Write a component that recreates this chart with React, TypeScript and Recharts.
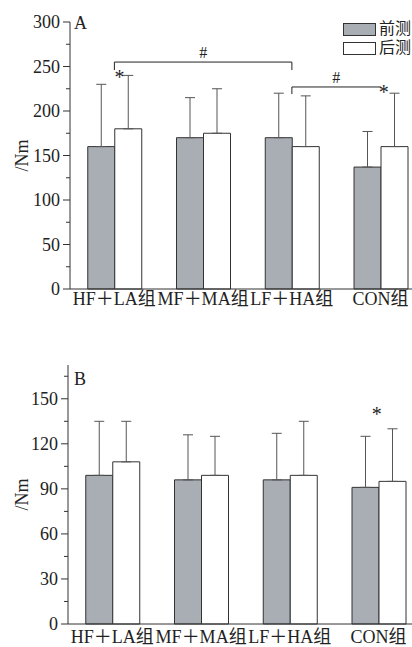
import {
  BarChart,
  Bar,
  XAxis,
  YAxis,
  ErrorBar,
  ReferenceLine,
  ReferenceDot,
  Legend,
} from 'recharts';

const categories = ['HF＋LA组', 'MF＋MA组', 'LF＋HA组', 'CON组'];
const legendNames = ['前测', '后测'];

// panel A: mean and SD (upper whisker only)
const preA = [160, 170, 170, 137];
const preSdA = [70, 45, 50, 40];
const postA = [180, 175, 160, 160];
const postSdA = [60, 50, 57, 60];

// panel B
const preB = [99, 96, 96, 91];
const preSdB = [36, 30, 31, 34];
const postB = [108, 99, 99, 95];
const postSdB = [27, 26, 36, 35];

const ticksA = [0, 25, 50, 75, 100, 125, 150, 175, 200, 225, 250, 275, 300];
const ticksB = [0, 15, 30, 45, 60, 75, 90, 105, 120, 135, 150, 165];

// significance marks
const bracketsA = [
  { from: 'HF＋LA组', to: 'LF＋HA组', y: 255, drop: 246, right: true },
  { from: 'LF＋HA组', to: 'CON组', y: 227, drop: 219, right: false },
];
const starsA = [
  { x: 'HF＋LA组', y: 241, dx: 5 },
  { x: 'CON组', y: 224, dx: 3 },
];
const starsB = [{ x: 'CON组', y: 141, dx: -2 }];

const FONT = '"Liberation Serif", "Noto Sans CJK SC", serif';
const GRAY = '#a9aeb5';

const build = (pre: number[], preSd: number[], post: number[], postSd: number[]) =>
  categories.map((name, i) => ({
    name,
    pre: pre[i],
    preErr: [0, preSd[i]],
    post: post[i],
    postErr: [0, postSd[i]],
  }));

const dataA = build(preA, preSdA, postA, postSdA);
const dataB = build(preB, preSdB, postB, postSdB);

const YTick = (props: any) => {
  const { x, y, payload, major } = props;
  const isMajor = payload.value % major === 0;
  return (
    <g>
      <line x1={x - (isMajor ? 7 : 4)} x2={x} y1={y} y2={y} stroke="#333" />
      {isMajor && (
        <text x={x - 10} y={y} dy="0.34em" textAnchor="end" fontSize={18} fill="#222" fontFamily={FONT}>
          {payload.value}
        </text>
      )}
    </g>
  );
};

const XTick = (props: any) => {
  const { x, y, payload, dy } = props;
  return (
    <text x={x} y={y + dy} textAnchor="middle" fontSize={18} fill="#222" fontFamily={FONT}>
      {payload.value}
    </text>
  );
};

const YLabel = (props: any) => {
  const vb = props.viewBox || { x: 0, y: 0, height: 0 };
  const cx = vb.x + 28;
  const cy = vb.y + vb.height / 2;
  return (
    <text x={cx} y={cy} textAnchor="middle" fontSize={18} fill="#222" fontFamily={FONT} transform={`rotate(-90, ${cx}, ${cy})`}>
      /Nm
    </text>
  );
};

const StarLabel = (props: any) => {
  const vb = props.viewBox || { x: 0, y: 0, width: 0, height: 0 };
  const cx = vb.x + vb.width / 2 + (props.dx || 0);
  const cy = vb.y + vb.height / 2;
  return (
    <text x={cx} y={cy + 9} textAnchor="middle" fontSize={20} fill="#222" fontFamily={FONT}>
      *
    </text>
  );
};

const LegendBox = () => (
  <div style={{ fontFamily: FONT, fontSize: 16, color: '#222', whiteSpace: 'nowrap' }}>
    {legendNames.map((n, i) => (
      <div key={n} style={{ display: 'flex', alignItems: 'center', height: 18.7 }}>
        <span
          style={{
            display: 'inline-block',
            width: 31,
            height: 11,
            border: '1px solid #333',
            background: i === 0 ? GRAY : '#fff',
          }}
        />
        <span style={{ marginLeft: 3, lineHeight: 1 }}>{n}</span>
      </div>
    ))}
  </div>
);

const series = (pre: string, post: string) => [
  <Bar key="pre" dataKey="pre" name={legendNames[0]} fill={GRAY} stroke="#333" strokeWidth={1} isAnimationActive={false}>
    <ErrorBar dataKey={pre} width={5} stroke="#555" strokeWidth={1} direction="y" />
  </Bar>,
  <Bar key="post" dataKey="post" name={legendNames[1]} fill="#fff" stroke="#333" strokeWidth={1} isAnimationActive={false}>
    <ErrorBar dataKey={post} width={5} stroke="#555" strokeWidth={1} direction="y" />
  </Bar>,
];

export default function App() {
  return (
    <div style={{ position: 'absolute', top: 0, left: 0, width: 412, height: 647, overflow: 'hidden', background: '#fff' }}>
      <div style={{ position: 'absolute', top: 0, left: 0 }}>
        <BarChart
          width={430}
          height={320}
          data={dataA}
          margin={{ top: 22, right: 5, left: 0, bottom: 0 }}
          barCategoryGap="20%"
          barGap={0}
        >
          <XAxis
            dataKey="name"
            height={31}
            tickLine={false}
            tickSize={0}
            tickMargin={0}
            interval={0}
            axisLine={{ stroke: '#333' }}
            tick={<XTick dy={16} />}
          />
          <YAxis
            width={70}
            domain={[0, 300]}
            ticks={ticksA}
            interval={0}
            tickLine={false}
            tickSize={0}
            tickMargin={0}
            axisLine={{ stroke: '#333' }}
            tick={<YTick major={50} />}
            label={<YLabel />}
          />
          <Legend
            layout="vertical"
            align="center"
            verticalAlign="middle"
            wrapperStyle={{ top: 20, left: 343, width: 'auto', height: 'auto' }}
            content={<LegendBox />}
          />
          {series('preErr', 'postErr')}
          {bracketsA.map((b) => (
            <ReferenceLine
              key={`h-${b.from}`}
              segment={[
                { x: b.from, y: b.y },
                { x: b.to, y: b.y },
              ]}
              stroke="#222"
              strokeWidth={1}
              label={{ value: '#', position: 'top', offset: 4, fill: '#222', fontSize: 16, fontFamily: FONT }}
            />
          ))}
          {bracketsA.map((b) => (
            <ReferenceLine
              key={`l-${b.from}`}
              segment={[
                { x: b.from, y: b.y },
                { x: b.from, y: b.drop },
              ]}
              stroke="#222"
              strokeWidth={1}
            />
          ))}
          {bracketsA
            .filter((b) => b.right)
            .map((b) => (
              <ReferenceLine
                key={`r-${b.to}`}
                segment={[
                  { x: b.to, y: b.y },
                  { x: b.to, y: b.drop },
                ]}
                stroke="#222"
                strokeWidth={1}
              />
            ))}
          {starsA.map((s) => (
            <ReferenceDot key={`s-${s.x}`} x={s.x} y={s.y} r={0} fill="none" stroke="none" label={<StarLabel dx={s.dx} />} />
          ))}
        </BarChart>
      </div>

      <div style={{ position: 'absolute', top: 330, left: 0 }}>
        <BarChart
          width={428}
          height={317}
          data={dataB}
          margin={{ top: 35, right: 5, left: 0, bottom: 0 }}
          barCategoryGap="20%"
          barGap={0}
        >
          <XAxis
            dataKey="name"
            height={23}
            tickLine={false}
            tickSize={0}
            tickMargin={0}
            interval={0}
            axisLine={{ stroke: '#333' }}
            tick={<XTick dy={19} />}
          />
          <YAxis
            width={68}
            domain={[0, 172.5]}
            ticks={ticksB}
            interval={0}
            tickLine={false}
            tickSize={0}
            tickMargin={0}
            axisLine={{ stroke: '#333' }}
            tick={<YTick major={30} />}
            label={<YLabel />}
          />
          {series('preErr', 'postErr')}
          {starsB.map((s) => (
            <ReferenceDot key={`s-${s.x}`} x={s.x} y={s.y} r={0} fill="none" stroke="none" label={<StarLabel dx={s.dx} />} />
          ))}
        </BarChart>
      </div>

      <svg width={412} height={647} style={{ position: 'absolute', top: 0, left: 0, pointerEvents: 'none' }}>
        <text x={74} y={29} fontSize={18} fill="#222" fontFamily={FONT}>A</text>
        <text x={74} y={385} fontSize={18} fill="#222" fontFamily={FONT}>B</text>
      </svg>
    </div>
  );
}
